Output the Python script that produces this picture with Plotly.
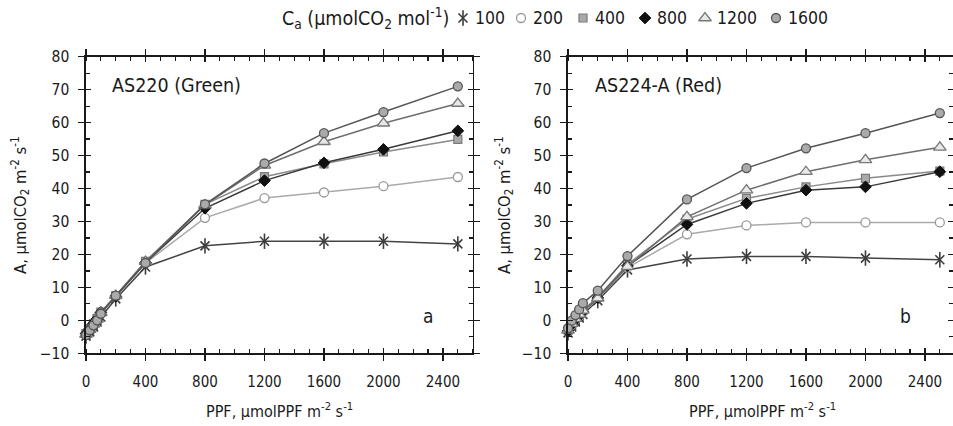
import plotly.graph_objects as go

# ---------------- data ----------------
ppf = [0, 25, 50, 75, 100, 200, 400, 800, 1200, 1600, 2000, 2500]
ca_levels = ["100", "200", "400", "800", "1200", "1600"]

a_100 = [-4.8, -3.5, -2.0, -0.5, 1.0, 6.5, 16.2, 22.6, 24.0, 24.0, 24.0, 23.2]
a_200 = [-3.8, -2.3, -0.9, 0.8, 2.5, 7.2, 17.4, 31.1, 37.1, 38.8, 40.7, 43.5]
a_400 = [-4.0, -2.5, -1.0, 0.6, 2.5, 7.5, 17.9, 35.2, 43.6, 47.5, 51.1, 54.9]
a_800 = [-4.0, -2.6, -1.0, 0.5, 2.4, 7.3, 17.5, 34.0, 42.4, 47.8, 51.9, 57.5]
a_1200 = [-4.3, -2.8, -1.2, 0.3, 2.3, 7.5, 17.8, 35.0, 47.0, 54.2, 59.8, 65.8]
a_1600 = [-4.5, -3.0, -1.5, 0.0, 2.0, 7.5, 17.4, 35.2, 47.6, 56.8, 63.2, 71.0]

b_100 = [-3.8, -2.0, -0.5, 0.7, 1.8, 6.0, 15.3, 18.6, 19.4, 19.4, 18.9, 18.4]
b_200 = [-3.2, -1.3, 0.2, 1.3, 2.5, 6.8, 16.0, 26.1, 28.8, 29.7, 29.7, 29.7]
b_400 = [-3.0, -1.0, 0.5, 1.8, 3.0, 7.0, 17.0, 30.7, 37.0, 40.5, 43.1, 45.3]
b_800 = [-3.2, -1.2, 0.3, 1.5, 2.7, 6.8, 16.5, 29.1, 35.5, 39.5, 40.5, 45.1]
b_1200 = [-3.0, -1.0, 0.5, 1.8, 3.0, 6.7, 16.3, 31.4, 39.5, 45.1, 48.7, 52.5]
b_1600 = [-2.4, -0.1, 1.6, 3.3, 5.2, 9.0, 19.5, 36.7, 46.2, 52.2, 56.8, 62.9]

panel_a = [a_100, a_200, a_400, a_800, a_1200, a_1600]
panel_b = [b_100, b_200, b_400, b_800, b_1200, b_1600]

x_tickvals = [0, 400, 800, 1200, 1600, 2000, 2400]
y_tickvals = [-10, 0, 10, 20, 30, 40, 50, 60, 70, 80]

# ---------------- styles ----------------
W, H = 953, 426
FONT = "DejaVu Sans Condensed, DejaVu Sans, sans-serif"
INK = "#1a1a1a"

styles = {
    "100": dict(symbol="x-thin", size=9, color=INK, lcolor="#3c3c3c", lw=1.6, line="#444444"),
    "200": dict(symbol="circle", size=9, color="white", lcolor="#999999", lw=1.3, line="#aaaaaa"),
    "400": dict(symbol="square", size=8, color="#aaaaaa", lcolor="#7a7a7a", lw=1.2, line="#8a8a8a"),
    "800": dict(symbol="diamond", size=9, color="#111111", lcolor="#111111", lw=1.0, line="#3a3a3a"),
    "1200": dict(symbol="triangle-up", size=11, color="#e8e8e8", lcolor="#777777", lw=1.3, line="#6e6e6e"),
    "1600": dict(symbol="circle", size=9, color="#aaaaaa", lcolor="#555555", lw=1.3, line="#555555"),
}


def px_x(p):
    return p / W


def px_y(p):
    return (H - p) / H


fig = go.Figure()

panels = [(panel_a, "x", "y"), (panel_b, "x2", "y2")]
for series_list, xa, ya in panels:
    for lvl, vals in zip(ca_levels, series_list):
        s = styles[lvl]
        fig.add_trace(go.Scatter(
            x=ppf, y=vals, xaxis=xa, yaxis=ya, mode="lines+markers",
            line=dict(color=s["line"], width=1.5),
            marker=dict(symbol=s["symbol"], size=s["size"], color=s["color"],
                        line=dict(color=s["lcolor"], width=s["lw"])),
            showlegend=False, cliponaxis=False))
        if lvl == "100":
            fig.add_trace(go.Scatter(
                x=ppf, y=vals, xaxis=xa, yaxis=ya, mode="markers",
                marker=dict(symbol="line-ns", size=11,
                            line=dict(color=s["lcolor"], width=1.6)),
                showlegend=False, cliponaxis=False))

# dummy traces for overlay tick axes
for xa, ya in [("x3", "y3"), ("x4", "y4")]:
    fig.add_trace(go.Scatter(x=[None], y=[None], xaxis=xa, yaxis=ya, showlegend=False))

# legend (custom, drawn on a full-figure helper axis in pixel units)
leg_sym_x = [463, 521, 583, 645, 705, 776]
leg_txt_x = [473, 531, 593, 655, 715, 786]
leg_y = 18
LEG_SIZE = 17.5
for lvl, sx in zip(ca_levels, leg_sym_x):
    s = styles[lvl]
    fig.add_trace(go.Scatter(
        x=[sx], y=[leg_y], xaxis="x5", yaxis="y5", mode="markers",
        marker=dict(symbol=s["symbol"], size=s["size"], color=s["color"],
                    line=dict(color=s["lcolor"], width=s["lw"])),
        showlegend=False, cliponaxis=False))
    if lvl == "100":
        fig.add_trace(go.Scatter(
            x=[sx], y=[leg_y], xaxis="x5", yaxis="y5", mode="markers",
            marker=dict(symbol="line-ns", size=11, line=dict(color=s["lcolor"], width=1.6)),
            showlegend=False, cliponaxis=False))

annotations = []
for lvl, tx in zip(ca_levels, leg_txt_x):
    annotations.append(dict(x=px_x(tx), y=px_y(leg_y), xref="paper", yref="paper",
                            text=lvl, showarrow=False, xanchor="left", yanchor="middle",
                            font=dict(size=LEG_SIZE, color=INK, family=FONT)))
annotations.append(dict(x=px_x(451), y=px_y(leg_y), xref="paper", yref="paper",
                        text="C<sub>a</sub> (μmolCO<sub>2</sub> mol<sup>-1</sup>)",
                        showarrow=False, xanchor="right", yanchor="middle",
                        font=dict(size=19.5, color=INK, family=FONT)))

# panel geometry (pixels)
a_x0, a_x1 = 86, 472.7
b_x0, b_x1 = 568, 953
y_top, y_bot = 56.7, 353.3
ydom = [px_y(y_bot), px_y(y_top)]

# panel texts
for txt, xc in [("AS220 (Green)", 110), ("AS224-A (Red)", 593)]:
    annotations.append(dict(x=px_x(xc), y=px_y(85), xref="paper", yref="paper", text=txt,
                            showarrow=False, xanchor="left", yanchor="middle",
                            font=dict(size=19.5, color=INK, family=FONT)))
for txt, xc in [("a", 428), ("b", 905)]:
    annotations.append(dict(x=px_x(xc), y=px_y(316), xref="paper", yref="paper", text=txt,
                            showarrow=False, xanchor="center", yanchor="middle",
                            font=dict(size=19, color=INK, family=FONT)))
# axis titles
ytitle = "A, μmolCO<sub>2</sub> m<sup>-2</sup> s<sup>-1</sup>"
xtitle = "PPF, μmolPPF m<sup>-2</sup> s<sup>-1</sup>"
for xc in [20, 504]:
    annotations.append(dict(x=px_x(xc), y=px_y((y_top + y_bot) / 2), xref="paper", yref="paper",
                            text=ytitle, textangle=-90, showarrow=False,
                            xanchor="center", yanchor="middle",
                            font=dict(size=16.5, color=INK, family=FONT)))
for xc in [(a_x0 + a_x1) / 2, 762]:
    annotations.append(dict(x=px_x(xc), y=px_y(410), xref="paper", yref="paper",
                            text=xtitle, showarrow=False, xanchor="center", yanchor="middle",
                            font=dict(size=16, color=INK, family=FONT)))


def xaxis_main(dom, rng, anchor):
    return dict(domain=dom, range=rng, anchor=anchor, tickmode="array", tickvals=x_tickvals,
                ticks="outside", ticklen=6, tickwidth=1.4, tickcolor=INK,
                minor=dict(dtick=100, tick0=0, ticks="inside", ticklen=4, tickwidth=1.2,
                           tickcolor=INK, showgrid=False),
                showline=True, linecolor=INK, linewidth=1.6, mirror="allticks",
                showgrid=False, zeroline=False, automargin=False,
                tickfont=dict(size=15, color=INK, family=FONT), ticklabelstandoff=8)


def yaxis_main(anchor):
    return dict(domain=ydom, range=[-10, 80], anchor=anchor, tickmode="array",
                tickvals=y_tickvals,
                ticks="outside", ticklen=6, tickwidth=1.4, tickcolor=INK,
                minor=dict(dtick=5, tick0=0, ticks="inside", ticklen=4, tickwidth=1.2,
                           tickcolor=INK, showgrid=False),
                showline=True, linecolor=INK, linewidth=1.6, mirror="allticks",
                showgrid=False, zeroline=False, automargin=False,
                tickfont=dict(size=15.5, color=INK, family=FONT), ticklabelstandoff=6)


def x_overlay(dom, rng, anchor, over):
    return dict(domain=dom, range=rng, anchor=anchor, overlaying=over, tickmode="array",
                tickvals=x_tickvals, ticks="inside", ticklen=5, tickwidth=1.4, tickcolor=INK,
                showline=False, mirror="allticks", showticklabels=False, showgrid=False,
                zeroline=False, automargin=False)


def y_overlay(anchor, over):
    return dict(domain=ydom, range=[-10, 80], anchor=anchor, overlaying=over,
                tickmode="array", tickvals=y_tickvals, ticks="inside", ticklen=5,
                tickwidth=1.4, tickcolor=INK, showline=False, mirror="allticks",
                showticklabels=False, showgrid=False, zeroline=False, automargin=False)


a_dom = [px_x(a_x0), px_x(a_x1)]
b_dom = [px_x(b_x0), px_x(b_x1)]
a_rng = [0, 2600]
b_rng = [0, (b_x1 - b_x0) / (a_x1 - a_x0) * 2600]

fig.update_layout(
    template="none",
    width=W, height=H, margin=dict(l=0, r=0, t=0, b=0, pad=0, autoexpand=False),
    paper_bgcolor="white", plot_bgcolor="rgba(0,0,0,0)",
    font=dict(family=FONT, color=INK),
    showlegend=False,
    xaxis=xaxis_main(a_dom, a_rng, "y"),
    yaxis=yaxis_main("x"),
    xaxis2=xaxis_main(b_dom, b_rng, "y2"),
    yaxis2=yaxis_main("x2"),
    xaxis3=x_overlay(a_dom, a_rng, "y3", "x"),
    yaxis3=y_overlay("x3", "y"),
    xaxis4=x_overlay(b_dom, b_rng, "y4", "x2"),
    yaxis4=y_overlay("x4", "y2"),
    xaxis5=dict(domain=[0, 1], range=[0, W], visible=False, anchor="y5", automargin=False),
    yaxis5=dict(domain=[0, 1], range=[H, 0], visible=False, anchor="x5", automargin=False),
    annotations=annotations,
)

fig.write_html("out.html", config={"displayModeBar": False, "staticPlot": True},
               post_script="document.body.style.margin='0';document.body.style.overflow='hidden';")
